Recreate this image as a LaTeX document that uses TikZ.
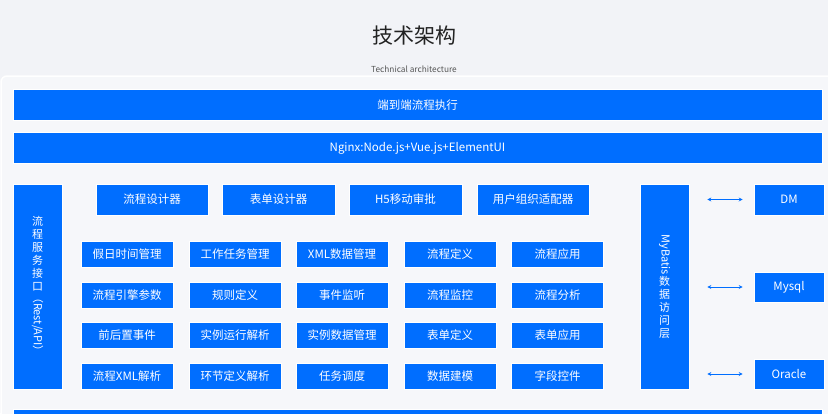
\documentclass[tikz,border=0pt]{standalone}
\usepackage{fontspec}
\setmainfont{Noto Sans CJK SC}
\usepackage{graphicx}
\usetikzlibrary{arrows.meta, positioning, calc}
\definecolor{pagecolor}{RGB}{242, 243, 247}
\definecolor{panelcolor}{RGB}{246, 247, 250}
\definecolor{blockcolor}{RGB}{0, 110, 255}
\definecolor{titlecolor}{RGB}{34, 34, 34}
\definecolor{subcolor}{RGB}{85, 85, 85}

\begin{document}
\begin{tikzpicture}[
    x=1pt, y=-1pt,
    >={Stealth[length=4pt, width=4pt]},
    block/.style={rectangle, draw=white, line width=0.6pt, fill=blockcolor, text=white, inner sep=0pt, align=center, font=\fontsize{11.5}{14}\selectfont},
    bar/.style={block, minimum width=809pt, minimum height=31pt},
    tool/.style={block, minimum width=112pt, minimum height=31pt},
    cell/.style={block, minimum width=92pt, minimum height=26pt},
    side/.style={block, minimum width=49pt, minimum height=205pt, font=\fontsize{11}{13}\selectfont},
    db/.style={block, minimum width=70pt, minimum height=30pt},
    link/.style={<->, blockcolor, line width=0.8pt, shorten <=18pt, shorten >=11pt}
]
\useasboundingbox[fill=pagecolor] (0,0) rectangle (828,413);

% Panel
\draw[white, line width=1.5pt, fill=panelcolor, rounded corners=6pt] (1,76) rectangle (840,440);

% Title
\node[font=\fontsize{21}{24}\selectfont, text=titlecolor] (title) at (414,36) {技术架构};
\node[font=\fontsize{8.3}{10}\selectfont, text=subcolor] (subtitle) at (414,69) {Technical architecture};

% Top layers
\node[bar] (e2e) at (417.5,105) {端到端流程执行};
\node[bar] (nginx) at (417.5,148) {Nginx:Node.js+Vue.js+ElementUI};

% Service interface
\node[side] (api) at (37.5,286.5) {流\\程\\服\\务\\接\\口\\\rotatebox[origin=c]{-90}{（Rest/API）}};

% Tools
\node[tool] (designer) at (152,199.5) {流程设计器};
\node[tool, minimum width=113pt] (formdesigner) at (278.5,199.5) {表单设计器};
\node[tool, minimum width=113pt] (mobile) at (405.5,199.5) {H5移动审批};
\node[tool] (adapter) at (533,199.5) {用户组织适配器};

% Engine modules
\node[cell] (holiday) at (127,254) {假日时间管理};
\node[cell] (task) at (235,254) {工作任务管理};
\node[cell] (xmldata) at (342,254) {XML数据管理};
\node[cell] (procdef) at (450,254) {流程定义};
\node[cell] (procapp) at (557.5,254) {流程应用};

\node[cell] (params) at (127,295) {流程引擎参数};
\node[cell] (rules) at (235,295) {规则定义};
\node[cell] (listen) at (342,295) {事件监听};
\node[cell] (monitor) at (450,295) {流程监控};
\node[cell] (analysis) at (557.5,295) {流程分析};

\node[cell] (events) at (127,335) {前后置事件};
\node[cell] (runparse) at (235,335) {实例运行解析};
\node[cell] (instdata) at (342,335) {实例数据管理};
\node[cell] (formdef) at (450,335) {表单定义};
\node[cell] (formapp) at (557.5,335) {表单应用};

\node[cell] (xmlparse) at (127,376) {流程XML解析};
\node[cell] (stepparse) at (235,376) {环节定义解析};
\node[cell] (schedule) at (342,376) {任务调度};
\node[cell] (modeling) at (450,376) {数据建模};
\node[cell] (fields) at (557.5,376) {字段控件};

% Data access
\node[side] (mybatis) at (664.5,286.5) {\rotatebox[origin=c]{-90}{MyBatis}\\数\\据\\访\\问\\层};

% Databases
\node[db, minimum height=31pt] (dm) at (789,199.5) {DM};
\node[db] (mysql) at (789,287) {Mysql};
\node[db] (oracle) at (789,374) {Oracle};

% Arrows
\draw[link] (mybatis.east |- dm.west) -- (dm.west);
\draw[link] (mybatis.east |- mysql.west) -- (mysql.west);
\draw[link] (mybatis.east |- oracle.west) -- (oracle.west);

% Bottom layer
\node[bar] (base) at (417.5,425) {};

\end{tikzpicture}
\end{document}
